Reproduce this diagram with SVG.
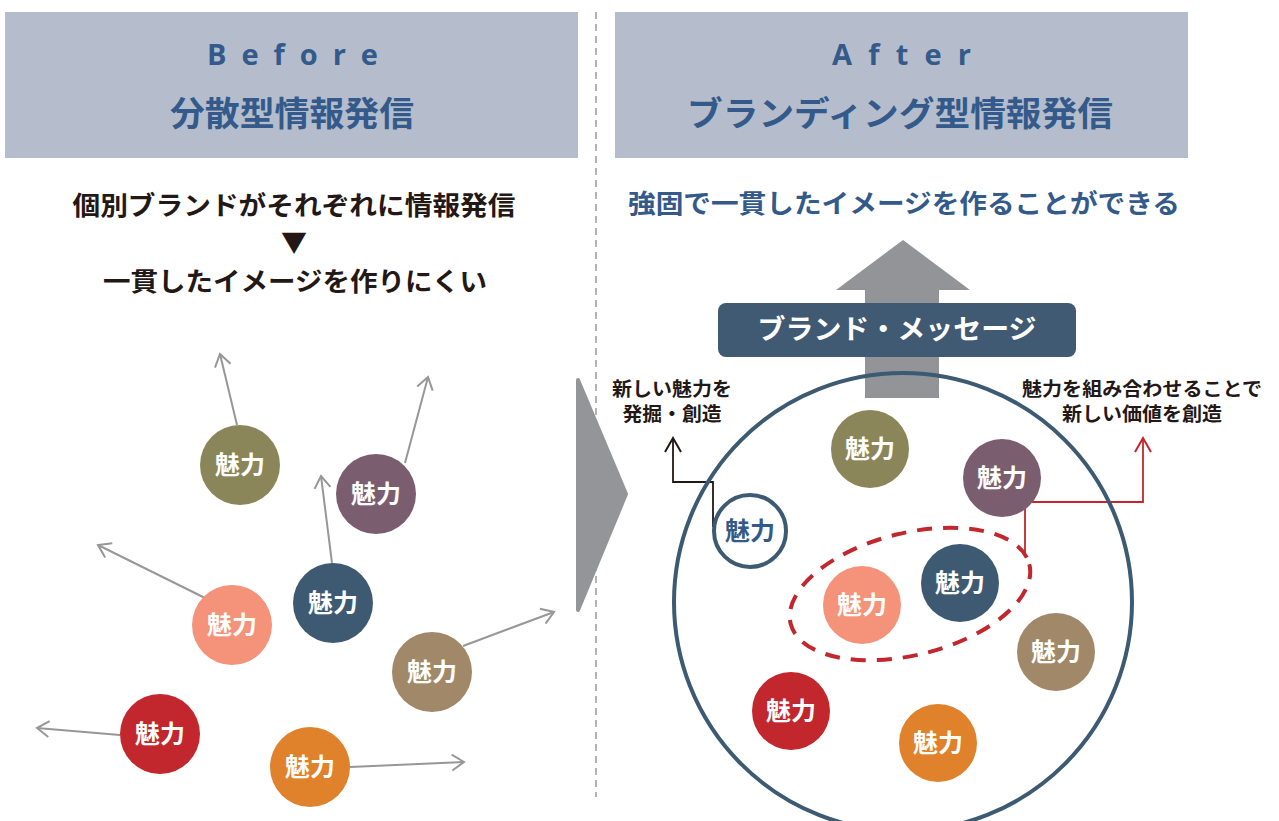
<svg xmlns="http://www.w3.org/2000/svg" width="1279" height="821" viewBox="0 0 1279 821">
<style>
text{font-family:"Noto Sans CJK JP","Noto Sans",sans-serif;font-weight:bold;text-anchor:middle}
.hd{fill:#b5bdcc}
.ht{fill:#335a8a}
.en{font-size:29px;font-family:"Open Sans","Noto Sans",sans-serif;text-anchor:start}
.jp{font-size:34px}
.dk{fill:#231815;font-size:26px}
.lbl{fill:#231815;font-size:19px}
.cl{fill:#fff;font-size:25px}
.ga{stroke:#979797;stroke-width:2;fill:none;marker-end:url(#mg)}
</style>
<defs>
<marker id="mg" markerUnits="userSpaceOnUse" markerWidth="20" markerHeight="20" refX="13" refY="9" orient="auto" viewBox="0 0 20 18"><path d="M1,1 L13,9 L1,17" fill="none" stroke="#979797" stroke-width="2"/></marker>
<marker id="mk" markerUnits="userSpaceOnUse" markerWidth="20" markerHeight="20" refX="15" refY="9" orient="auto" viewBox="0 0 20 18"><path d="M1,1 L15,9 L1,17" fill="none" stroke="#231815" stroke-width="2"/></marker>
<marker id="mr" markerUnits="userSpaceOnUse" markerWidth="20" markerHeight="20" refX="15" refY="9" orient="auto" viewBox="0 0 20 18"><path d="M1,1 L15,9 L1,17" fill="none" stroke="#c1272d" stroke-width="2"/></marker>
</defs>
<rect width="1279" height="821" fill="#fff"/>

<g id="header-before">
<rect class="hd" x="5" y="12" width="573" height="146"/>
<text class="ht en" x="207" y="65" textLength="171" lengthAdjust="spacing">Before</text>
<text class="ht jp" x="292" y="126" textLength="244" lengthAdjust="spacingAndGlyphs">分散型情報発信</text>
</g>
<g id="header-after">
<rect class="hd" x="615" y="12" width="573" height="146"/>
<text class="ht en" x="832" y="65" textLength="139" lengthAdjust="spacing">After</text>
<text class="ht jp" x="900" y="126" textLength="426" lengthAdjust="spacingAndGlyphs">ブランディング型情報発信</text>
</g>
<line x1="596" y1="12" x2="596" y2="797" stroke="#9a9a9a" stroke-width="1.5" stroke-dasharray="7,5"/>

<g id="before-caption">
<text class="dk" x="294" y="215" textLength="443" lengthAdjust="spacingAndGlyphs">個別ブランドがそれぞれに情報発信</text>
<text class="dk" x="294" y="252" font-size="22">▼</text>
<text class="dk" x="295" y="291" textLength="384" lengthAdjust="spacingAndGlyphs">一貫したイメージを作りにくい</text>
</g>
<g id="after-caption">
<text x="904" y="213" textLength="552" lengthAdjust="spacingAndGlyphs" style="fill:#335a8a;font-size:26px">強固で一貫したイメージを作ることができる</text>
</g>

<g id="transition-arrow">
<path d="M578,380 L626,494 L578,610 Z" fill="#949599" stroke="#949599" stroke-width="4" stroke-linejoin="round"/>
</g>

<g id="connectors">
<line class="ga" x1="237" y1="425" x2="220" y2="354"/>
<line class="ga" x1="405" y1="463" x2="428" y2="377"/>
<line class="ga" x1="332" y1="563" x2="321" y2="476"/>
<line class="ga" x1="205" y1="598" x2="98" y2="545"/>
<line class="ga" x1="463" y1="646" x2="554" y2="612"/>
<line class="ga" x1="120" y1="735" x2="37" y2="728"/>
<line class="ga" x1="350" y1="767" x2="464" y2="762"/>
<polyline points="713,527 713,482 673,482 673,438" fill="none" stroke="#231815" stroke-width="1.8" marker-end="url(#mk)"/>
<polyline points="1025,557 1025,502 1143,502 1143,438" fill="none" stroke="#c1272d" stroke-width="1.8" marker-end="url(#mr)"/>
</g>

<g id="before-nodes">
<g id="b1"><circle cx="240" cy="465" r="40" fill="#8b8659"/><text class="cl" x="240" y="474">魅力</text></g>
<g id="b2"><circle cx="376" cy="494" r="40" fill="#7a5e6f"/><text class="cl" x="376" y="503">魅力</text></g>
<g id="b3"><circle cx="333" cy="603" r="40" fill="#3e5a72"/><text class="cl" x="333" y="612">魅力</text></g>
<g id="b4"><circle cx="232" cy="625" r="40" fill="#f4937a"/><text class="cl" x="232" y="634">魅力</text></g>
<g id="b5"><circle cx="432" cy="672" r="40" fill="#a08868"/><text class="cl" x="432" y="681">魅力</text></g>
<g id="b6"><circle cx="160" cy="734" r="40" fill="#c1272d"/><text class="cl" x="160" y="743">魅力</text></g>
<g id="b7"><circle cx="310" cy="767" r="40" fill="#e0812c"/><text class="cl" x="310" y="776">魅力</text></g>
</g>

<g id="up-arrow">
<path d="M903,240 L970,290 L939,290 L939,398 L865,398 L865,290 L836,290 Z" fill="#939497"/>
</g>
<g id="big-circle">
<circle cx="903" cy="602" r="229" fill="none" stroke="#3d5a73" stroke-width="4"/>
</g>
<g id="brand-message">
<rect x="718" y="303" width="358" height="54" rx="8" fill="#3f5a72"/>
<text x="897" y="339" textLength="279" lengthAdjust="spacingAndGlyphs" style="fill:#fff;font-size:27px">ブランド・メッセージ</text>
</g>

<g id="label-left">
<text class="lbl" x="672" y="396" textLength="120" lengthAdjust="spacingAndGlyphs">新しい魅力を</text>
<text class="lbl" x="672" y="421" textLength="99" lengthAdjust="spacingAndGlyphs">発掘・創造</text>
</g>
<g id="label-right">
<text class="lbl" x="1142" y="396" textLength="240" lengthAdjust="spacingAndGlyphs">魅力を組み合わせることで</text>
<text class="lbl" x="1142" y="421" textLength="160" lengthAdjust="spacingAndGlyphs">新しい価値を創造</text>
</g>

<g id="after-nodes">
<g id="a1"><circle cx="870" cy="449" r="39" fill="#8b8659"/><text class="cl" x="870" y="458">魅力</text></g>
<g id="a2"><circle cx="1002" cy="478" r="39" fill="#7a5e6f"/><text class="cl" x="1002" y="487">魅力</text></g>
<g id="a3"><circle cx="750" cy="531" r="36" fill="#fff" stroke="#3d5a73" stroke-width="4"/><text class="cl" x="750" y="540" style="fill:#335a8a">魅力</text></g>
<g id="a4"><circle cx="960" cy="583" r="39" fill="#3e5a72"/><text class="cl" x="960" y="592">魅力</text></g>
<g id="a5"><circle cx="862" cy="605" r="39" fill="#f4937a"/><text class="cl" x="862" y="614">魅力</text></g>
<g id="a6"><circle cx="1056" cy="652" r="39" fill="#a08868"/><text class="cl" x="1056" y="661">魅力</text></g>
<g id="a7"><circle cx="791" cy="711" r="39" fill="#c1272d"/><text class="cl" x="791" y="720">魅力</text></g>
<g id="a8"><circle cx="938" cy="743" r="39" fill="#e0812c"/><text class="cl" x="938" y="752">魅力</text></g>
</g>
<g id="group-ellipse">
<ellipse cx="910" cy="594" rx="123" ry="61" transform="rotate(-14 910 594)" fill="none" stroke="#c1272d" stroke-width="4" stroke-dasharray="15,11"/>
</g>
</svg>
